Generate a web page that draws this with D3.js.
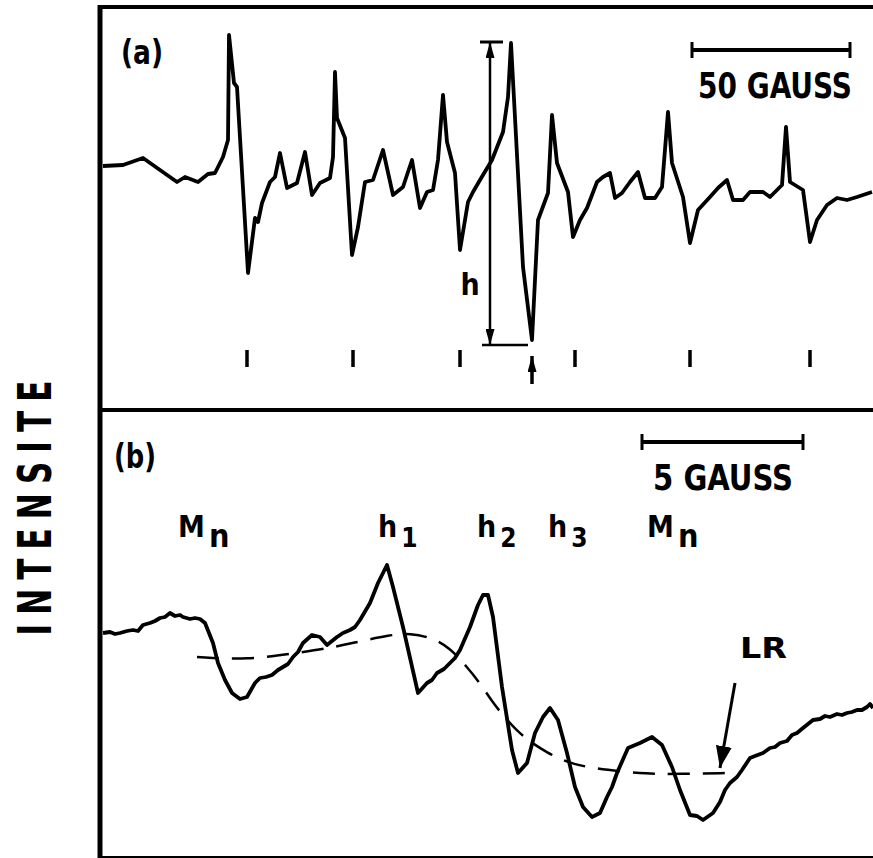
<!DOCTYPE html>
<html>
<head>
<meta charset="utf-8">
<script src="https://cdn.jsdelivr.net/npm/d3@7"></script>
<style>
  html, body { margin: 0; padding: 0; background: #fff; }
  svg { display: block; }
  text { font-family: "Liberation Sans Narrow", "DejaVu Sans Condensed", "Liberation Sans", sans-serif; font-weight: bold; fill: #000; }
</style>
</head>
<body>
<div id="chart-area"></div>
<script>
// spectrum (a): [field position, intensity]
var spectrumA = [
  [3,4],[23,5],[43,12],[60,0],[77,-12],[85,-7],[98,-12],[108,-4],[115,-3],[123,13],[128,30],
  [129,135],[134,87],[137,83],[148,-103],[155,-48],[158,-52],[162,-33],[170,-12],[175,-7],
  [180,17],[187,-18],[197,-13],[205,18],[212,-25],[220,-13],[230,-8],[233,13],[235,98],
  [237,52],[245,32],[252,-85],[258,-57],[265,-12],[273,-10],[283,20],[293,-25],[303,-17],
  [312,10],[320,-38],[327,-22],[333,-20],[338,10],[343,75],[347,28],[355,-3],[360,-80],
  [368,-32],[373,-22],[380,-10],[392,10],[403,38],[408,73],[411,127],[423,-97],[432,-170],
  [438,-50],[448,-23],[452,55],[457,7],[468,-22],[473,-67],[480,-50],[487,-38],[497,-12],
  [503,-7],[510,-3],[515,-28],[522,-23],[530,-12],[538,-2],[545,-28],[555,-28],[562,-17],
  [568,58],[572,7],[583,-27],[590,-73],[598,-40],[610,-27],[618,-18],[627,-10],[633,-30],
  [643,-30],[650,-22],[663,-22],[670,-27],[682,-15],[686,43],[690,-12],[703,-20],[710,-72],
  [717,-50],[727,-35],[737,-28],[747,-30],[757,-27],[772,-22]
]
var lineMarksA = [147, 253, 360, 475, 590, 710]
var centreMarkA = 432
var heightMark = {x: 390, top: 128, bottom: -175}

// spectrum (b)
var spectrumB = [
  [3,7],[10,8],[15,6],[20,7],[27,9],[33,10],[38,9],[43,15],[50,17],[55,19],[60,22],[65,23],
  [70,27],[75,24],[80,25],[83,23],[90,21],[95,22],[100,21],[105,17],[113,-3],[118,-23],
  [125,-40],[132,-53],[140,-59],[147,-57],[155,-43],[160,-38],[166,-37],[172,-35],[178,-30],
  [183,-27],[188,-24],[193,-17],[198,-12],[203,-3],[212,5],[220,3],[227,-5],[232,-1],[237,3],
  [243,7],[250,10],[255,13],[260,20],[270,37],[278,57],[287,75],[293,53],[303,13],[318,-53],
  [327,-43],[332,-40],[337,-33],[344,-29],[350,-23],[355,-18],[360,-10],[370,13],[378,35],
  [383,45],[388,45],[393,23],[402,-47],[412,-110],[418,-133],[427,-123],[435,-93],[443,-77],
  [450,-68],[458,-80],[467,-113],[475,-147],[483,-167],[492,-177],[500,-173],[507,-157],
  [512,-147],[517,-133],[528,-108],[540,-103],[552,-97],[562,-105],[572,-127],[580,-150],
  [590,-175],[597,-176],[603,-180],[613,-173],[620,-162],[625,-150],[630,-143],[637,-137],
  [642,-130],[650,-118],[655,-116],[663,-113],[670,-108],[675,-107],[680,-103],[687,-101],
  [692,-95],[697,-93],[703,-88],[708,-84],[713,-80],[720,-79],[725,-76],[730,-77],[737,-74],
  [742,-75],[747,-73],[752,-72],[757,-70],[762,-70],[767,-67],[770,-64],[773,-68]
]
var baselineB = [
  [97,-17],[147,-20],[197,-13],[230,-8],[257,-2],[290,5],[310,7],[333,2],[350,-8],[367,-27],
  [380,-43],[393,-63],[407,-80],[423,-97],[447,-113],[473,-125],[507,-130],[547,-134],
  [580,-134],[628,-133]
]
var labelsB = [
  {main: "M", sub: "n", x: 78},
  {main: "h", sub: "1", x: 278},
  {main: "h", sub: "2", x: 377},
  {main: "h", sub: "3", x: 448},
  {main: "M", sub: "n", x: 547}
]
var scaleBarA = [592, 750]
var scaleBarB = [542, 703]

var width = 873
var height = 858

var svg = d3.select("#chart-area")
    .append("svg")
    .attr("width", width)
    .attr("height", height)

var x = d3.scaleLinear().domain([0, 773]).range([100, 873])
var yA = d3.scaleLinear().domain([-180, 140]).range([350, 30])
var yB = d3.scaleLinear().domain([-200, 200]).range([840, 440])

var defs = svg.append("defs")
function addHead(id, len, wid) {
    defs.append("marker")
        .attr("id", id)
        .attr("viewBox", "0 0 " + len + " " + wid)
        .attr("refX", len).attr("refY", wid / 2)
        .attr("markerWidth", len).attr("markerHeight", wid)
        .attr("markerUnits", "userSpaceOnUse")
        .attr("orient", "auto")
      .append("path")
        .attr("d", "M0,0 L" + len + "," + (wid / 2) + " L0," + wid + " Z")
        .attr("fill", "#000")
}
addHead("head", 16, 9)
addHead("bighead", 22, 16)

// frame
svg.append("line").attr("x1", 100).attr("x2", 100).attr("y1", 5).attr("y2", 858)
    .attr("stroke", "#000").attr("stroke-width", 5)
svg.append("line").attr("x1", 98).attr("x2", 873).attr("y1", 7).attr("y2", 7)
    .attr("stroke", "#000").attr("stroke-width", 4)
svg.append("line").attr("x1", 98).attr("x2", 873).attr("y1", 410).attr("y2", 410)
    .attr("stroke", "#000").attr("stroke-width", 4)
svg.append("line").attr("x1", 98).attr("x2", 873).attr("y1", 857).attr("y2", 857)
    .attr("stroke", "#000").attr("stroke-width", 2)

svg.append("text")
    .attr("transform", "translate(51,508) rotate(-90) scale(0.75,1)")
    .attr("text-anchor", "middle")
    .attr("font-size", 46)
    .attr("textLength", 340)
    .attr("lengthAdjust", "spacing")
    .text("INTENSITE")

var lineA = d3.line().x(function(d){ return x(d[0]) }).y(function(d){ return yA(d[1]) })
var lineB = d3.line().x(function(d){ return x(d[0]) }).y(function(d){ return yB(d[1]) })

// panel (a)
svg.append("path")
    .datum(spectrumA)
    .attr("d", lineA)
    .attr("fill", "none")
    .attr("stroke", "#000")
    .attr("stroke-width", 3.8)
    .attr("stroke-linejoin", "round")

svg.append("text").attr("x", 121).attr("y", 64)
    .attr("font-size", 34).attr("textLength", 42).attr("lengthAdjust", "spacingAndGlyphs")
    .text("(a)")

svg.selectAll(".markA")
    .data(lineMarksA)
    .enter().append("line")
    .attr("class", "markA")
    .attr("x1", function(d){ return x(d) }).attr("x2", function(d){ return x(d) })
    .attr("y1", 350).attr("y2", 367)
    .attr("stroke", "#000").attr("stroke-width", 3.5)

svg.append("line")
    .attr("x1", x(centreMarkA)).attr("x2", x(centreMarkA))
    .attr("y1", 384).attr("y2", 356)
    .attr("stroke", "#000").attr("stroke-width", 3.5)
    .attr("marker-end", "url(#head)")

// h measurement
var hx = x(heightMark.x)
svg.append("line").attr("x1", hx).attr("x2", hx)
    .attr("y1", yA(0)).attr("y2", yA(heightMark.top))
    .attr("stroke", "#000").attr("stroke-width", 2.5).attr("marker-end", "url(#head)")
svg.append("line").attr("x1", hx).attr("x2", hx)
    .attr("y1", yA(0)).attr("y2", yA(heightMark.bottom))
    .attr("stroke", "#000").attr("stroke-width", 2.5).attr("marker-end", "url(#head)")
svg.append("line").attr("x1", hx - 10).attr("x2", hx + 13)
    .attr("y1", yA(heightMark.top)).attr("y2", yA(heightMark.top))
    .attr("stroke", "#000").attr("stroke-width", 3)
svg.append("line").attr("x1", hx - 8).attr("x2", x(centreMarkA) - 4)
    .attr("y1", yA(heightMark.bottom)).attr("y2", yA(heightMark.bottom))
    .attr("stroke", "#000").attr("stroke-width", 2.5)
svg.append("text").attr("x", hx - 20).attr("y", 295)
    .attr("text-anchor", "middle").attr("font-size", 30)
    .text("h")

function scaleBar(range, yPos) {
    var g = svg.append("g")
    g.append("line").attr("x1", x(range[0])).attr("x2", x(range[1]))
        .attr("y1", yPos).attr("y2", yPos)
        .attr("stroke", "#000").attr("stroke-width", 4)
    range.forEach(function(v){
        g.append("line").attr("x1", x(v)).attr("x2", x(v))
            .attr("y1", yPos - 8).attr("y2", yPos + 8)
            .attr("stroke", "#000").attr("stroke-width", 3)
    })
    return g
}

scaleBar(scaleBarA, 50)
svg.append("text").attr("x", 698).attr("y", 98)
    .attr("font-size", 35).attr("textLength", 154).attr("lengthAdjust", "spacingAndGlyphs")
    .text("50 GAUSS")

// panel (b)
svg.append("path")
    .datum(baselineB)
    .attr("d", lineB.curve(d3.curveBasis))
    .attr("fill", "none")
    .attr("stroke", "#000")
    .attr("stroke-width", 2.5)
    .attr("stroke-dasharray", "22,13")
lineB.curve(d3.curveLinear)

svg.append("path")
    .datum(spectrumB)
    .attr("d", lineB)
    .attr("fill", "none")
    .attr("stroke", "#000")
    .attr("stroke-width", 3.8)
    .attr("stroke-linejoin", "round")

svg.append("text").attr("x", 114).attr("y", 468)
    .attr("font-size", 34).attr("textLength", 42).attr("lengthAdjust", "spacingAndGlyphs")
    .text("(b)")

scaleBar(scaleBarB, 442)
svg.append("text").attr("x", 653).attr("y", 490)
    .attr("font-size", 35).attr("textLength", 140).attr("lengthAdjust", "spacingAndGlyphs")
    .text("5 GAUSS")

var lab = svg.selectAll(".labB")
    .data(labelsB)
    .enter().append("text")
    .attr("class", "labB")
    .attr("x", function(d){ return x(d.x) })
    .attr("y", 537)
    .attr("font-size", 30)
lab.append("tspan").text(function(d){ return d.main })
lab.append("tspan")
    .attr("dx", 4).attr("dy", 10)
    .attr("font-size", function(d){ return d.sub === "n" ? 32 : 26 })
    .text(function(d){ return d.sub })

svg.append("text").attr("x", 740).attr("y", 658)
    .attr("font-size", 28).attr("textLength", 47).attr("lengthAdjust", "spacingAndGlyphs")
    .text("LR")
svg.append("line").attr("x1", 735).attr("y1", 683).attr("x2", 720).attr("y2", 768)
    .attr("stroke", "#000").attr("stroke-width", 3).attr("marker-end", "url(#bighead)")
</script>
</body>
</html>
